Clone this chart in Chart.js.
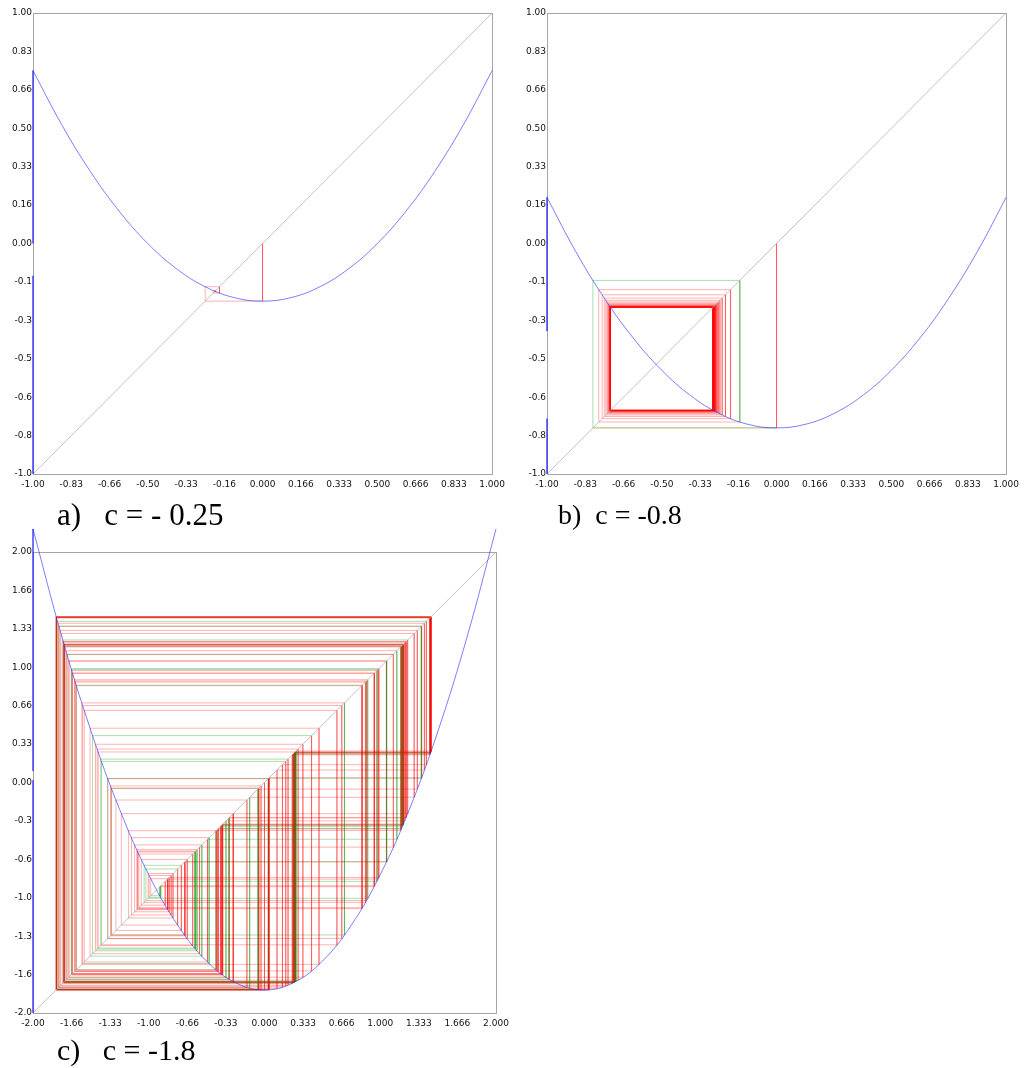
<!DOCTYPE html>
<html>
<head>
<meta charset="utf-8">
<script src="https://cdn.jsdelivr.net/npm/chart.js@4.4.0/dist/chart.umd.min.js"></script>
<style>
    body { margin: 0; background: #ffffff; width: 1025px; height: 1068px; position: relative; overflow: hidden; }
    canvas { position: absolute; }
    .caption {
        position: absolute;
        font-family: 'Liberation Serif', 'Times New Roman', serif;
        font-size: 30px;
        line-height: 1;
        white-space: pre;
        color: #000;
    }
</style>
</head>
<body>
<canvas id="chartA" width="510" height="500" style="left:0px;top:0px"></canvas>
<canvas id="chartB" width="510" height="500" style="left:514px;top:0px"></canvas>
<canvas id="chartC" width="520" height="519" style="left:0px;top:520px"></canvas>
<div class="caption" style="left:57px;top:499px;font-size:31px">a)   c = - 0.25</div>
<div class="caption" style="left:558px;top:501px;font-size:28px">b)  c = -0.8</div>
<div class="caption" style="left:57px;top:1035px">c)   c = -1.8</div>

<script>
// tick labels (bottom-to-top for y)
const ticksXab = ['-1.00', '-0.83', '-0.66', '-0.50', '-0.33', '-0.16', '0.000', '0.166', '0.333', '0.500', '0.666', '0.833', '1.000'];
const ticksYab = ['-1.0', '-0.8', '-0.6', '-0.5', '-0.3', '-0.1', '0.00', '0.16', '0.33', '0.50', '0.66', '0.83', '1.00'];
const ticksXc = ['-2.00', '-1.66', '-1.33', '-1.00', '-0.66', '-0.33', '0.000', '0.333', '0.666', '1.000', '1.333', '1.666', '2.000'];
const ticksYc = ['-2.0', '-1.6', '-1.3', '-1.0', '-0.6', '-0.3', '0.00', '0.33', '0.66', '1.00', '1.33', '1.66', '2.00'];

// parabola samples
const curveXab = [-1, -0.875, -0.75, -0.625, -0.5, -0.375, -0.25, -0.125, 0, 0.125, 0.25, 0.375, 0.5, 0.625, 0.75, 0.875, 1];
const curveYa = [0.75, 0.5156, 0.3125, 0.1406, 0, -0.1094, -0.1875, -0.2344, -0.25, -0.2344, -0.1875, -0.1094, 0, 0.1406, 0.3125, 0.5156, 0.75];
const curveYb = [0.2, -0.0344, -0.2375, -0.4094, -0.55, -0.6594, -0.7375, -0.7844, -0.8, -0.7844, -0.7375, -0.6594, -0.55, -0.4094, -0.2375, -0.0344, 0.2];
const curveXc = [-2, -1.75, -1.5, -1.25, -1, -0.75, -0.5, -0.25, 0, 0.25, 0.5, 0.75, 1, 1.25, 1.5, 1.75, 2];
const curveYc = [2.2, 1.2625, 0.45, -0.2375, -0.8, -1.2375, -1.55, -1.7375, -1.8, -1.7375, -1.55, -1.2375, -0.8, -0.2375, 0.45, 1.2625, 2.2];

// blue pieces along the left edge [from, to]
const edgeA = [[0.75, 0.0], [-0.14, -1.0]];
const edgeB = [[0.2, -0.38], [-0.76, -1.0]];
const edgeC = [[2.2, 0.1], [0.02, -2.0]];

// orbits starting at 0
const orbitA = [0, -0.25, -0.1875, -0.2148, -0.2038, -0.2084, -0.2066, -0.2073, -0.2070, -0.2071, -0.2071];
const orbitB = [0, -0.8, -0.16, -0.7744, -0.2003, -0.7599, -0.2226, -0.7505, -0.2368, -0.7439, -0.2466,
    -0.7392, -0.2536, -0.7357, -0.2588, -0.7330, -0.2626, -0.7310, -0.2656, -0.7295, -0.2679,
    -0.7282, -0.2697, -0.7273, -0.2711, -0.7265, -0.2722, -0.7259, -0.2730, -0.7255, -0.2737,
    -0.7251, -0.2743, -0.7248, -0.2747, -0.7245, -0.2750, -0.7244, -0.2753, -0.7242, -0.2755,
    -0.7241, -0.2757, -0.7240, -0.2758, -0.7239, -0.2760, -0.7238, -0.2761, -0.7238, -0.2761,
    -0.7237, -0.2762, -0.7237, -0.2763, -0.7237, -0.2763, -0.7236, -0.2764, -0.7236, -0.2764];
const orbitC = [0, -1.8, 1.44, 0.2736, -1.7251, 1.1761, -0.4168, -1.6263, 0.8449, -1.0862, -0.6202,
    -1.4153, 0.2032, -1.7587, 1.2931, -0.1280, -1.7836, 1.3813, 0.1080, -1.7883, 1.3982,
    0.1549, -1.7760, 1.3543, 0.0340, -1.7988, 1.4358, 0.2616, -1.7316, 1.1984, -0.3639,
    -1.6676, 0.9808, -0.8381, -1.0977, -0.5951, -1.4458, 0.2904, -1.7157, 1.1435, -0.4924,
    -1.5575, 0.6258, -1.4083, 0.1834, -1.7664, 1.3201, -0.0574, -1.7967, 1.4281, 0.2396,
    -1.7426, 1.2367, -0.2706, -1.7268, 1.1818, -0.4034, -1.6373, 0.8806, -1.0246, -0.7503,
    -1.2371, -0.2696, -1.7273, 1.1836, -0.3992, -1.6407, 0.8917, -1.0048, -0.7903, -1.1754,
    -0.4185, -1.6248, 0.8401, -1.0943, -0.6026, -1.4369, 0.2648, -1.7299, 1.1926, -0.3778,
    -1.6573, 0.9465, -0.9042, -0.9825, -0.8348, -1.1032, -0.5830, -1.4601, 0.3318, -1.6899,
    1.0558, -0.6852, -1.3305, -0.0299, -1.7991, 1.4368, 0.2644, -1.7301, 1.1933, -0.3762,
    -1.6585, 0.9507, -0.8963, -0.9967, -0.8065, -1.1495, -0.4786, -1.5710, 0.6680, -1.3538,
    0.0328, -1.7989, 1.4362, 0.2625, -1.7311, 1.1966, -0.3681, -1.6645, 0.9707, -0.8578,
    -1.0643, -0.6674, -1.3546, 0.0350, -1.7988, 1.4356, 0.2609, -1.7320, 1.1997, -0.3608,
    -1.6698, 0.9882, -0.8235, -1.1219, -0.5413, -1.5070, 0.4710, -1.5782, 0.6907, -1.3229,
    -0.0499, -1.7975, 1.4310, 0.2479, -1.7386, 1.2226, -0.3053, -1.7068, 1.1132, -0.5608,
    -1.4855, 0.4067, -1.6346, 0.8718, -1.0400, -0.7184, -1.2838, -0.1518, -1.7770, 1.3576,
    0.0431, -1.7981, 1.4333, 0.2544, -1.7353, 1.2112, -0.3329, -1.6892, 1.0533, -0.6906,
    -1.3230, -0.0496, -1.7975, 1.4312, 0.2482, -1.7384, 1.2220, -0.3066, -1.7060, 1.1104];

const Colors = {
    curve: 'rgba(40, 40, 255, 0.6)',
    diagonal: 'rgba(170, 170, 170, 0.7)',
    red: 'rgba(255, 0, 0, 0.3)',
    green: 'rgba(0, 150, 0, 0.32)',
    olive: 'rgba(120, 130, 0, 0.6)',
    box: '#a6a6a6',
    text: '#111111'
};

const boxPlugin = {
    id: 'box',
    beforeDatasetsDraw(chart) {
        const a = chart.chartArea;
        const ctx = chart.ctx;
        ctx.save();
        ctx.strokeStyle = Colors.box;
        ctx.lineWidth = 1;
        ctx.strokeRect(Math.round(a.left) + 0.5, Math.round(a.top) + 0.5, Math.round(a.right - a.left), Math.round(a.bottom - a.top));
        ctx.restore();
    }
};

function segColorB(k) {
    if (k === 1) return Colors.olive;
    if (k >= 2 && k <= 4) return Colors.green;
    return Colors.red;
}

function segColorC(k) {
    return Math.floor(k / 2) % 4 === 3 ? Colors.green : Colors.red;
}

function segColorA() {
    return Colors.red;
}

function linePts(x1, y1, x2, y2) {
    return [{ x: x1, y: y1 }, { x: x2, y: y2 }];
}

function lineSet(data, color, extra) {
    return Object.assign({
        data: data,
        showLine: true,
        borderColor: color,
        borderWidth: 1,
        pointRadius: 0,
        fill: false
    }, extra || {});
}

function scaleOpts(min, max, labels, axis, fitSize, pad) {
    const step = (max - min) / (labels.length - 1);
    return {
        type: 'linear',
        min: min,
        max: max,
        afterBuildTicks(scale) {
            scale.ticks = labels.map((l, i) => ({ value: min + i * step }));
        },
        afterFit(scale) {
            if (axis === 'x') scale.height = fitSize;
            else scale.width = fitSize;
        },
        grid: { display: false, drawTicks: false },
        border: { display: false },
        ticks: {
            autoSkip: false,
            maxRotation: 0,
            padding: pad,
            color: Colors.text,
            font: { family: "'DejaVu Sans', sans-serif", size: 9 },
            callback: (v, i) => labels[i]
        }
    };
}

function renderPanel(id, p) {
    const datasets = [];
    datasets.push(lineSet(p.curveX.map((x, i) => ({ x: x, y: p.curveY[i] })), Colors.curve, { tension: 0.4, clip: false }));
    p.edge.forEach(e => datasets.push(lineSet(linePts(p.min, e[0], p.min, e[1]), Colors.curve, { clip: false })));
    datasets.push(lineSet(linePts(p.min, p.min, p.max, p.max), Colors.diagonal));

    // cobweb: vertical to curve, horizontal to diagonal
    let k = 0;
    for (let n = 0; n < p.orbit.length - 1; n++) {
        const a = p.orbit[n];
        const b = p.orbit[n + 1];
        datasets.push(lineSet(linePts(a, a, a, b), p.colorOf(k++)));
        datasets.push(lineSet(linePts(a, b, b, b), p.colorOf(k++)));
    }

    return new Chart(document.getElementById(id), {
        type: 'scatter',
        data: { datasets: datasets },
        options: {
            responsive: false,
            animation: false,
            events: [],
            layout: { padding: { top: p.padTop, right: p.padRight, left: 0, bottom: 0 } },
            plugins: { legend: { display: false }, tooltip: { enabled: false } },
            scales: {
                x: scaleOpts(p.min, p.max, p.ticksX, 'x', 26, 5),
                y: scaleOpts(p.min, p.max, p.ticksY, 'y', 33, 1)
            }
        },
        plugins: [boxPlugin]
    });
}

renderPanel('chartA', {
    min: -1, max: 1, curveX: curveXab, curveY: curveYa, edge: edgeA, orbit: orbitA,
    ticksX: ticksXab, ticksY: ticksYab, padTop: 13, padRight: 17, colorOf: segColorA
});
renderPanel('chartB', {
    min: -1, max: 1, curveX: curveXab, curveY: curveYb, edge: edgeB, orbit: orbitB,
    ticksX: ticksXab, ticksY: ticksYab, padTop: 13, padRight: 17, colorOf: segColorB
});
renderPanel('chartC', {
    min: -2, max: 2, curveX: curveXc, curveY: curveYc, edge: edgeC, orbit: orbitC,
    ticksX: ticksXc, ticksY: ticksYc, padTop: 32, padRight: 24, colorOf: segColorC
});
</script>
</body>
</html>
